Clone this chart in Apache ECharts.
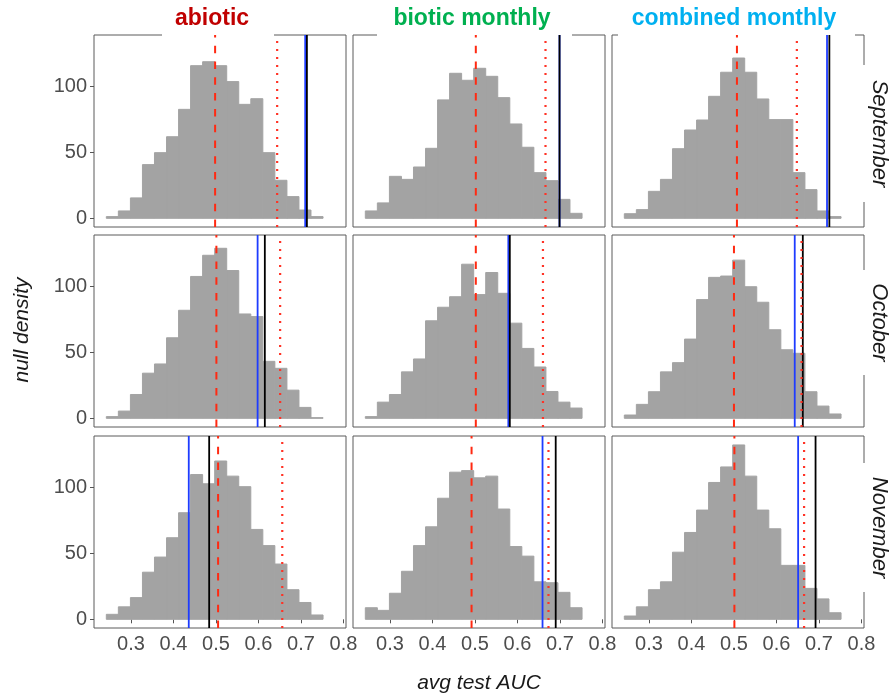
<!DOCTYPE html>
<html lang="en">
<head>
    <meta charset="UTF-8">
    <title>null AUC histograms</title>
    <script src="https://cdn.jsdelivr.net/npm/echarts@6/dist/echarts.min.js"></script>
    <style>
        html, body {margin: 0; padding: 0; background: #fff;}
        #chart {width: 895px; height: 700px;}
    </style>
</head>
<body>
<div id="chart"></div>
<script>
    // facets
    const models = ['abiotic', 'biotic monthly', 'combined monthly']
    const modelColors = ['#C00000', '#00B050', '#00B0F0']
    const months = ['September', 'October', 'November']

    // axis ticks
    const xTicks = [0.3, 0.4, 0.5, 0.6, 0.7, 0.8]
    const yTicks = [0, 50, 100]

    // histogram bin edges (18 bins)
    const binEdges = [0.2420, 0.2703, 0.2987, 0.3270, 0.3553, 0.3837, 0.4120, 0.4403, 0.4686, 0.4970,
        0.5253, 0.5536, 0.5820, 0.6103, 0.6386, 0.6670, 0.6953, 0.7236, 0.7520]

    // bin heights, one array per panel
    const sepAbiotic = [1.3, 5.6, 15.5, 40.8, 49.9, 62, 82.8, 116, 119, 116, 103.9, 86.6, 90.9, 49.9, 28.9, 16.5, 6.3, 1.3]
    const sepBiotic = [5.6, 11.7, 31.9, 29.6, 39, 53.2, 90, 110.2, 104.9, 114, 107.9, 91.7, 71.7, 54, 34.7, 28.6, 14.4, 3.8]
    const sepCombined = [3.5, 6.6, 20.5, 29.6, 52.9, 67.1, 74.7, 92.7, 111, 121.8, 111, 90.7, 75, 75, 34.7, 21.8, 5.6, 1.3]
    const octAbiotic = [1.3, 5.5, 18.1, 34.3, 41.3, 61.2, 82.1, 107.8, 123.9, 129.2, 112.3, 79.3, 77.3, 43.3, 38, 21.4, 8.3, 0.5]
    const octBiotic = [1.3, 12.3, 18.1, 35.3, 45.1, 74.1, 84.4, 92.4, 117.1, 94, 110.8, 95, 72.3, 53.1, 39, 20.4, 12.3, 7.8]
    const octCombined = [2.5, 10.6, 20.2, 35.3, 42.3, 60.2, 90.2, 107.1, 108.1, 120.2, 100, 88.2, 67.3, 52.1, 49.4, 20.2, 9.3, 3.3]
    const novAbiotic = [3.8, 9.5, 16.5, 35.8, 47.3, 62, 81, 110, 103, 120.3, 108.8, 100.8, 68.3, 56, 42, 22.5, 12.8, 3.3]
    const novBiotic = [8.8, 6.8, 19.8, 36.5, 56, 70.3, 92, 111.8, 113, 107.5, 108.8, 83.8, 55.3, 48, 28.5, 27.8, 20.5, 8.8]
    const novCombined = [2.5, 9.5, 22.5, 28.5, 51, 66, 83, 104, 115.8, 132.5, 108.8, 83, 68.8, 41, 41, 23.5, 15.5, 5]

    const panelCounts = [
        sepAbiotic, sepBiotic, sepCombined,
        octAbiotic, octBiotic, octCombined,
        novAbiotic, novBiotic, novCombined
    ]

    // vertical reference lines, same panel order
    const nullMean = [0.498, 0.502, 0.507, 0.501, 0.502, 0.500, 0.505, 0.492, 0.501]
    const null95 = [0.644, 0.666, 0.648, 0.651, 0.660, 0.659, 0.656, 0.673, 0.665]
    const blueAuc = [0.710, 0.699, 0.719, 0.598, 0.5785, 0.643, 0.436, 0.659, 0.651]
    const blackAuc = [0.714, 0.699, 0.7245, 0.615, 0.582, 0.662, 0.484, 0.690, 0.692]

    const X_MIN = 0.213, X_MAX = 0.806
    const Y_MIN = -6.6, Y_MAX = 139.3
    const colLeft = [94, 353, 612]
    const rowTop = [35, 235, 436]
    const panelW = 252, panelH = 192
    const FONT = 'Liberation Sans'

    let grid = [], xAxis = [], yAxis = [], series = []

    function vline(i, x, color, width, type) {
        return {
            type: 'line',
            xAxisIndex: i,
            yAxisIndex: i,
            data: [[x, Y_MIN], [x, Y_MAX]],
            symbol: 'none',
            silent: true,
            lineStyle: {color: color, width: width, type: type, cap: 'butt'},
            z: 3
        }
    }

    for (let r = 0; r < 3; r++) {
        for (let c = 0; c < 3; c++) {
            let i = r * 3 + c
            grid.push({
                left: colLeft[c], top: rowTop[r], width: panelW, height: panelH,
                show: true, borderColor: '#5a5a5a', borderWidth: 1, backgroundColor: 'transparent'
            })
            xAxis.push({
                gridIndex: i, type: 'value', min: X_MIN, max: X_MAX,
                axisLine: {show: false},
                splitLine: {show: false},
                axisTick: {show: r === 2, length: 4, customValues: xTicks, lineStyle: {color: '#555'}},
                axisLabel: {
                    show: r === 2, customValues: xTicks, fontSize: 20, color: '#4d4d4d',
                    fontFamily: FONT, margin: 6, formatter: v => v.toFixed(1)
                }
            })
            yAxis.push({
                gridIndex: i, type: 'value', min: Y_MIN, max: Y_MAX,
                axisLine: {show: false},
                splitLine: {show: false},
                axisTick: {show: c === 0, length: 4, customValues: yTicks, lineStyle: {color: '#555'}},
                axisLabel: {
                    show: c === 0, customValues: yTicks, fontSize: 20, color: '#4d4d4d',
                    fontFamily: FONT, margin: 7
                }
            })

            // histogram
            let bins = panelCounts[i].map((h, k) => [binEdges[k], binEdges[k + 1], h])
            series.push({
                type: 'custom',
                xAxisIndex: i,
                yAxisIndex: i,
                data: bins,
                silent: true,
                z: 2,
                renderItem: function (params, api) {
                    let p0 = api.coord([api.value(0), 0])
                    let p1 = api.coord([api.value(1), api.value(2)])
                    return {
                        type: 'rect',
                        shape: {x: p0[0], y: p1[1], width: p1[0] - p0[0], height: p0[1] - p1[1]},
                        style: {fill: '#a3a3a3', stroke: '#a3a3a3', lineWidth: 1}
                    }
                }
            })

            series.push(vline(i, blueAuc[i], '#1e3cff', 1.8, 'solid'))
            series.push(vline(i, blackAuc[i], '#000', 1.8, 'solid'))
            series.push(vline(i, nullMean[i], '#ff2a12', 2, [7.5, 8.3]))
            series.push(vline(i, null95[i], '#ff3326', 2.2, [2, 6]))
        }
    }

    // strip labels and axis titles
    let graphic = []
    const topGaps = [[162, 112], [377, 195], [618, 237]]
    const titleX = [212, 472, 734]
    for (let c = 0; c < 3; c++) {
        graphic.push({
            type: 'rect', z: 1,
            shape: {x: topGaps[c][0], y: 33, width: topGaps[c][1], height: 4},
            style: {fill: '#fff'}
        })
        graphic.push({
            type: 'text', x: titleX[c], y: 19, z: 10,
            style: {
                text: models[c], fill: modelColors[c], fontSize: 23, fontWeight: 'bold',
                fontFamily: FONT, align: 'center', verticalAlign: 'middle'
            }
        })
    }
    const sideGaps = [[65, 137], [270, 105], [463, 129]]
    for (let r = 0; r < 3; r++) {
        graphic.push({
            type: 'rect', z: 1,
            shape: {x: 861, y: sideGaps[r][0], width: 5, height: sideGaps[r][1]},
            style: {fill: '#fff'}
        })
        graphic.push({
            type: 'text', x: 879, y: sideGaps[r][0] + sideGaps[r][1] / 2, z: 10,
            rotation: -Math.PI / 2,
            style: {
                text: months[r], fill: '#1a1a1a', fontSize: 22, fontStyle: 'italic',
                fontFamily: FONT, align: 'center', verticalAlign: 'middle'
            }
        })
    }
    graphic.push({
        type: 'text', x: 22, y: 330, z: 10, rotation: Math.PI / 2,
        style: {
            text: 'null density', fill: '#1a1a1a', fontSize: 21, fontStyle: 'italic',
            fontFamily: FONT, align: 'center', verticalAlign: 'middle'
        }
    })
    graphic.push({
        type: 'text', x: 479, y: 683, z: 10,
        style: {
            text: 'avg test AUC', fill: '#1a1a1a', fontSize: 21, fontStyle: 'italic',
            fontFamily: FONT, align: 'center', verticalAlign: 'middle'
        }
    })

    let myChart = echarts.init(document.getElementById('chart'))
    myChart.setOption({
        animation: false,
        backgroundColor: '#fff',
        grid: grid,
        xAxis: xAxis,
        yAxis: yAxis,
        series: series,
        graphic: graphic
    })
</script>
</body>
</html>
